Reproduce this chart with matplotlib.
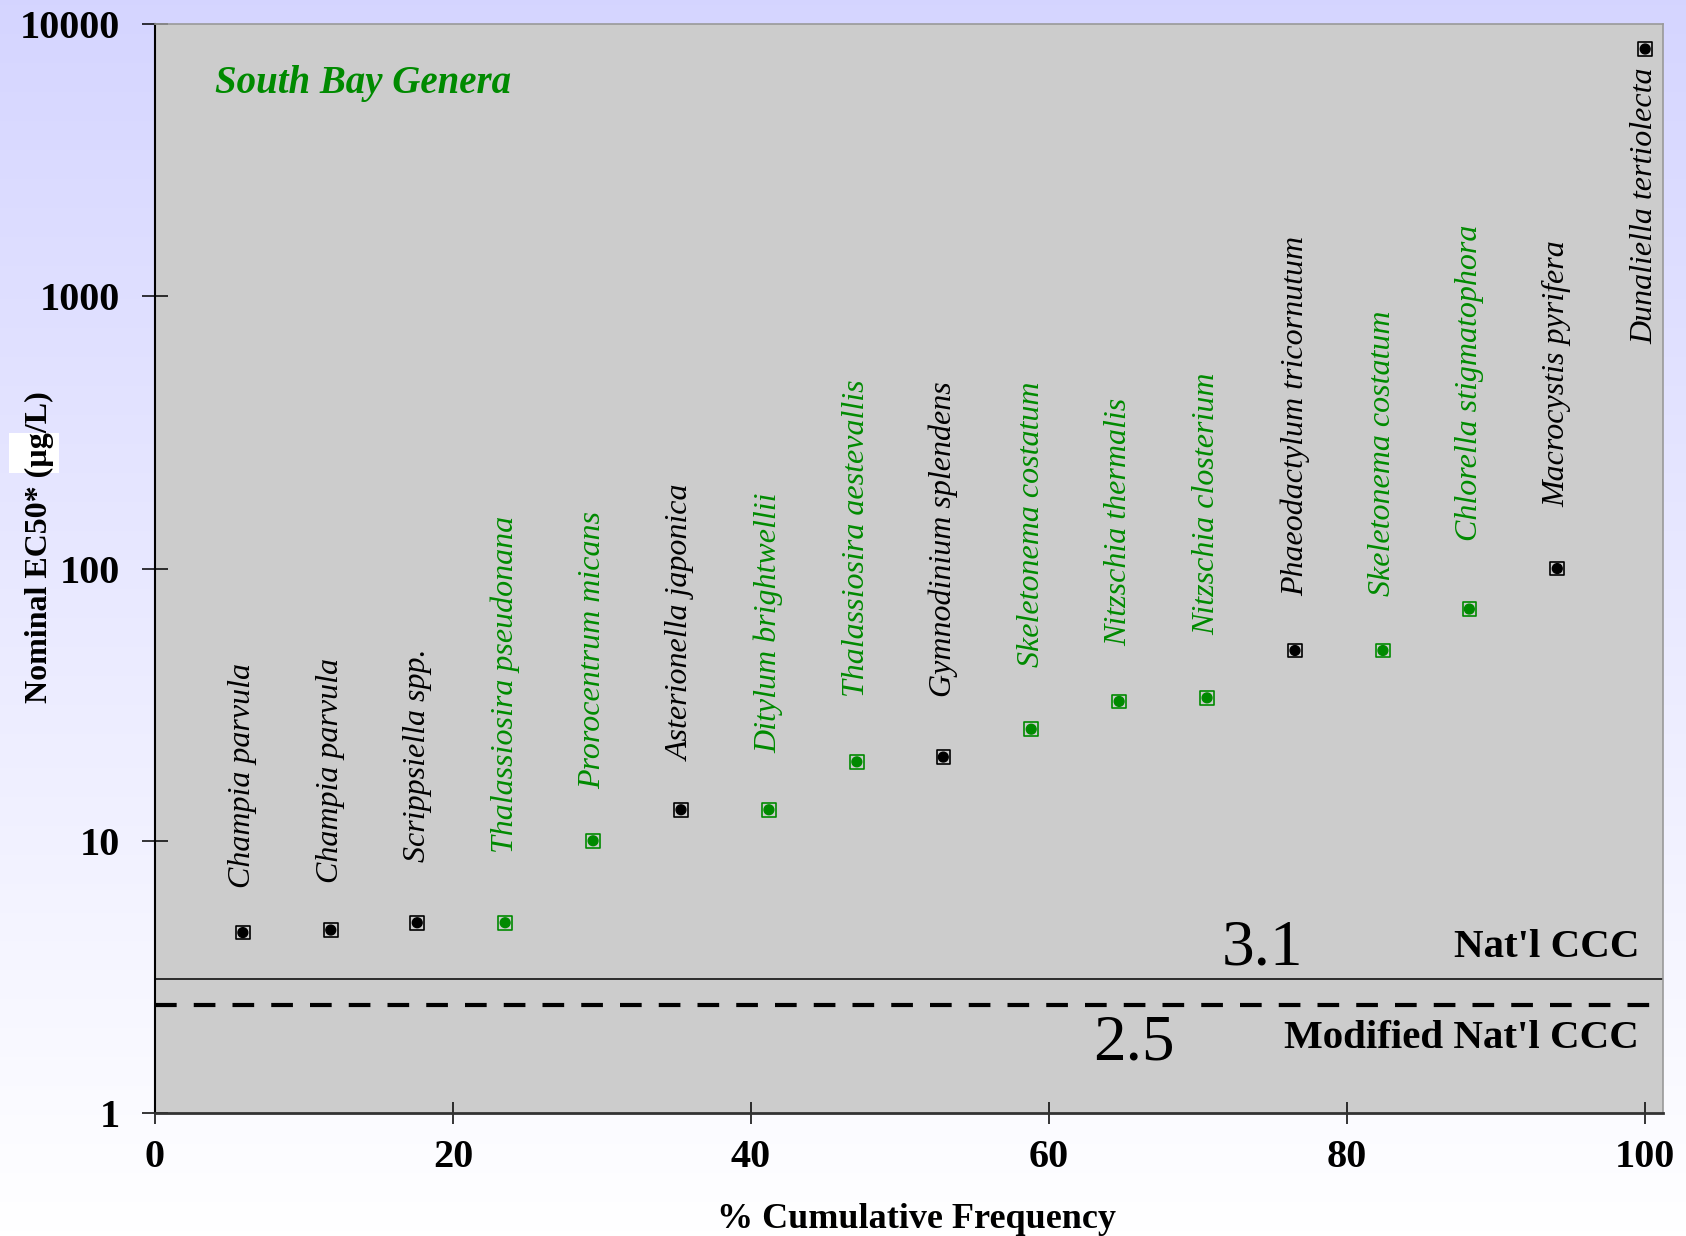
import matplotlib.pyplot as plt
import numpy as np
from matplotlib.ticker import FixedLocator, FuncFormatter, NullLocator
from matplotlib.patches import Rectangle

plt.rcParams['font.family'] = ['Liberation Serif', 'DejaVu Serif']

# Species sensitivity data (nominal EC50, ug/L), ranked
species = ["Champia parvula", "Champia parvula", "Scrippsiella spp.",
           "Thalassiosira pseudonana", "Prorocentrum micans", "Asterionella japonica",
           "Ditylum brightwellii", "Thalassiosira aestevallis", "Gymnodinium splendens",
           "Skeletonema costatum", "Nitzschia thermalis", "Nitzschia closterium",
           "Phaeodactylum tricornutum", "Skeletonema costatum", "Chlorella stigmatophora",
           "Macrocystis pyrifera", "Dunaliella tertiolecta"]
cum_freq = [5.9, 11.8, 17.6, 23.5, 29.4, 35.3, 41.2, 47.1, 52.9,
            58.8, 64.7, 70.6, 76.5, 82.4, 88.2, 94.1, 100.0]
ec50 = [4.6, 4.7, 5.0, 5.0, 10, 13, 13, 19.5, 20.3,
        25.7, 32.5, 33.5, 50, 50, 71, 100, 8100]
south_bay = [False, False, False, True, True, False, True, True, False,
             True, True, True, False, True, True, False, False]

nat_ccc = 3.1
mod_ccc = 2.5

GREEN = '#008a00'
colors = [GREEN if sb else 'black' for sb in south_bay]
# label offset above each point (points)
label_off = [32, 34, 44, 50, 37, 35, 41, 47, 43, 45, 40, 45, 39, 39, 49, 44, -13]

fig = plt.figure(figsize=(16.86, 12.36), dpi=100)

# lavender -> white background
bg = fig.add_axes([0, 0, 1, 1], zorder=-2)
t = np.linspace(0, 1, 256)[:, None, None]
top = np.array([0.835, 0.835, 1.0])
bot = np.array([1.0, 1.0, 1.0])
bg.imshow(top * (1 - t) + bot * t, aspect='auto', extent=[0, 1, 0, 1])
bg.axis('off')

ax = fig.add_axes([0.0919, 0.0995, 0.8945, 0.881])
ax.set_facecolor('#cccccc')
ax.set_yscale('log')
ax.set_ylim(1, 10000)
ax.set_xlim(0, 101.2)

ax.scatter(cum_freq, ec50, marker='s', s=95, facecolors='none', edgecolors=colors,
           linewidths=1.2, zorder=3)
ax.scatter(cum_freq, ec50, marker='o', s=50, c=colors, zorder=4)

for name, x, y, c, off in zip(species, cum_freq, ec50, colors, label_off):
    va = 'bottom' if off > 0 else 'top'
    ax.annotate(name, (x, y), xytext=(0, off), textcoords='offset points',
                rotation=90, ha='center', va=va, fontsize=23, style='italic', color=c)

ax.axhline(nat_ccc, color='black', lw=1.1)
ax.axhline(mod_ccc, color='black', lw=3, linestyle=(0, (5.2, 4.1)))

ax.text(74.3, 3.51, "3.1", fontsize=47, ha='center', va='baseline')
ax.text(65.7, 1.575, "2.5", fontsize=47, ha='center', va='baseline')
ax.text(99.6, 3.74, "Nat'l CCC", fontsize=29.5, fontweight='bold', ha='right', va='baseline')
ax.text(99.6, 1.74, "Modified Nat'l CCC", fontsize=29.5, fontweight='bold', ha='right', va='baseline')
ax.text(4.0, 5590, "South Bay Genera", fontsize=28, fontweight='bold', style='italic',
        color=GREEN, ha='left', va='baseline')

ax.yaxis.set_major_locator(FixedLocator([1, 10, 100, 1000, 10000]))
ax.yaxis.set_minor_locator(NullLocator())
ax.yaxis.set_major_formatter(FuncFormatter(lambda v, _: f"{v:g}"))
ax.xaxis.set_major_locator(FixedLocator([0, 20, 40, 60, 80, 100]))
ax.tick_params(axis='y', direction='inout', length=19, width=1.1, pad=16, labelsize=29)
ax.tick_params(axis='x', direction='inout', length=16, width=1.1, pad=11, labelsize=29)
for lab in ax.get_xticklabels() + ax.get_yticklabels():
    lab.set_fontweight('bold')

ax.spines['left'].set_color('black')
ax.spines['left'].set_linewidth(1.5)
ax.spines['bottom'].set_color('#333333')
ax.spines['bottom'].set_linewidth(2)
for s in ('top', 'right'):
    ax.spines[s].set_color('#999999')
    ax.spines[s].set_linewidth(1.2)

ax.set_xlabel("% Cumulative Frequency", fontsize=26, fontweight='bold')
ax.xaxis.set_label_coords(0.505, -0.083)
ax.set_ylabel("Nominal EC50* (\u00b5g/L)", fontsize=23, fontweight='bold')
ax.yaxis.set_label_coords(-0.067, 0.52)

# white patch behind the mu, as in the original slide
fig.add_artist(Rectangle((0.0051, 0.617), 0.030, 0.033, transform=fig.transFigure,
                         facecolor='white', edgecolor='none', zorder=-1))

fig.savefig('out.png', dpi=100)
